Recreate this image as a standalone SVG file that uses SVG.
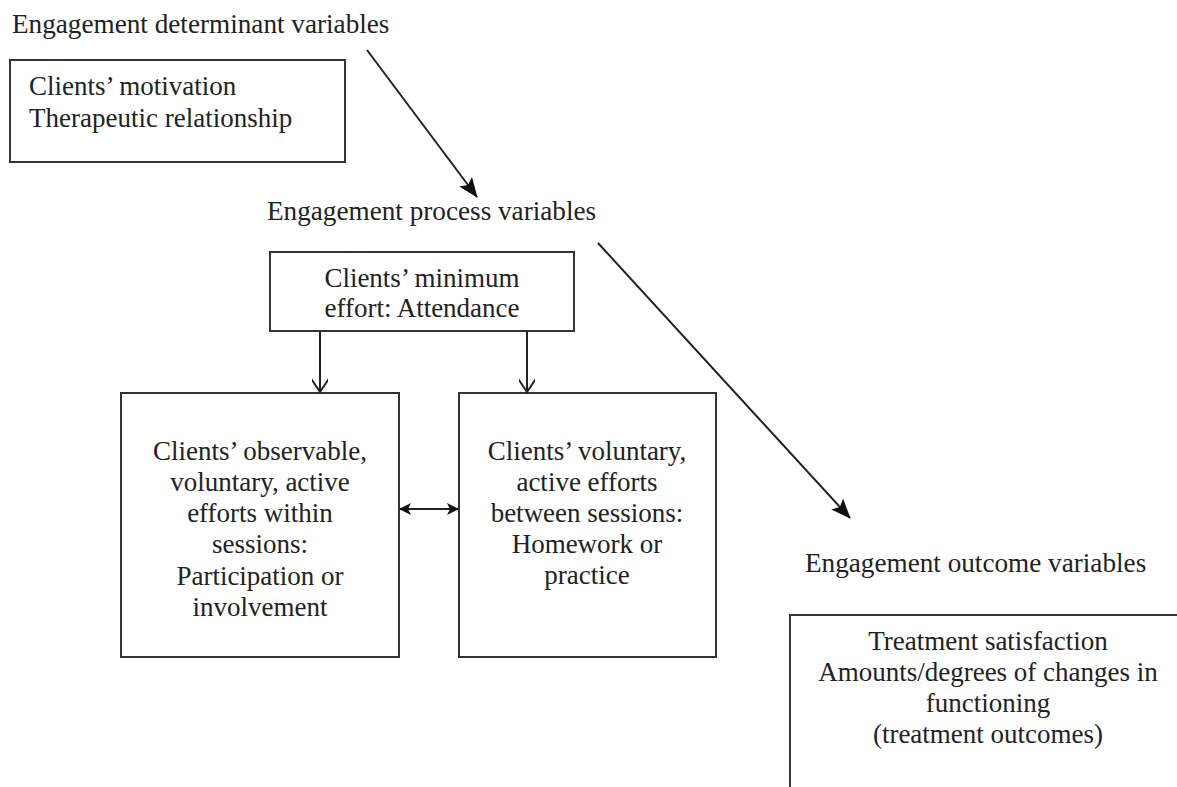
<svg xmlns="http://www.w3.org/2000/svg" width="1177" height="787" viewBox="0 0 1177 787">
<style>
text{font-family:"Liberation Serif","Times New Roman",serif;fill:#222;}
.h{font-size:27.2px;}
.b{font-size:27px;}
.c{text-anchor:middle;}
.box{fill:#fff;stroke:#333;stroke-width:2;}
.ln{stroke:#222;stroke-width:2;fill:none;}
</style>
<defs>
<marker id="fill" viewBox="0 0 12 12" refX="11" refY="6" markerWidth="12" markerHeight="12" markerUnits="userSpaceOnUse" orient="auto-start-reverse">
<path d="M0,0 L12,6 L0,12 L3,6 Z" fill="#111"/>
</marker>
<marker id="big" viewBox="0 0 20 16" refX="19" refY="8" markerWidth="20" markerHeight="16" markerUnits="userSpaceOnUse" orient="auto">
<path d="M0,0 L20,8 L0,16 L4,8 Z" fill="#111"/>
</marker>
<marker id="open" viewBox="0 0 22 16" refX="15" refY="8" markerWidth="22" markerHeight="16" markerUnits="userSpaceOnUse" orient="auto">
<path d="M0,-2 L15,8 L0,18" fill="none" stroke="#222" stroke-width="2"/>
</marker>
</defs>
<text class="h" x="12" y="33">Engagement determinant variables</text>
<g id="determinants">
<rect class="box" x="10" y="60" width="335" height="102"/>
<text class="b" x="29" y="95">Clients’ motivation</text>
<text class="b" x="29" y="127">Therapeutic relationship</text>
</g>
<text class="h" x="267" y="220">Engagement process variables</text>
<g id="attendance">
<rect class="box" x="270" y="252" width="304" height="79"/>
<text class="b c" x="422" y="287">Clients’ minimum</text>
<text class="b c" x="422" y="317">effort: Attendance</text>
</g>
<g id="within">
<rect class="box" x="121" y="393" width="278" height="264"/>
<text class="b c" x="260" y="460">Clients’ observable,</text>
<text class="b c" x="260" y="491">voluntary, active</text>
<text class="b c" x="260" y="522">efforts within</text>
<text class="b c" x="260" y="553">sessions:</text>
<text class="b c" x="260" y="585">Participation or</text>
<text class="b c" x="260" y="616">involvement</text>
</g>
<g id="between">
<rect class="box" x="459" y="393" width="257" height="264"/>
<text class="b c" x="587" y="460">Clients’ voluntary,</text>
<text class="b c" x="587" y="491">active efforts</text>
<text class="b c" x="587" y="522">between sessions:</text>
<text class="b c" x="587" y="553">Homework or</text>
<text class="b c" x="587" y="584">practice</text>
</g>
<text class="h" x="805" y="572">Engagement outcome variables</text>
<g id="outcomes">
<rect class="box" x="790" y="615" width="400" height="190"/>
<text class="b c" x="988" y="650">Treatment satisfaction</text>
<text class="b c" x="988" y="681">Amounts/degrees of changes in</text>
<text class="b c" x="988" y="712">functioning</text>
<text class="b c" x="988" y="743">(treatment outcomes)</text>
</g>
<g id="connectors">
<line class="ln" x1="367" y1="50" x2="477" y2="197" marker-end="url(#big)"/>
<line class="ln" x1="598" y1="243" x2="850" y2="518" marker-end="url(#big)"/>
<line class="ln" x1="320" y1="331" x2="320" y2="392" marker-end="url(#open)"/>
<line class="ln" x1="527" y1="331" x2="527" y2="392" marker-end="url(#open)"/>
<line class="ln" x1="400" y1="509" x2="458" y2="509" marker-start="url(#fill)" marker-end="url(#fill)"/>
</g>
</svg>
